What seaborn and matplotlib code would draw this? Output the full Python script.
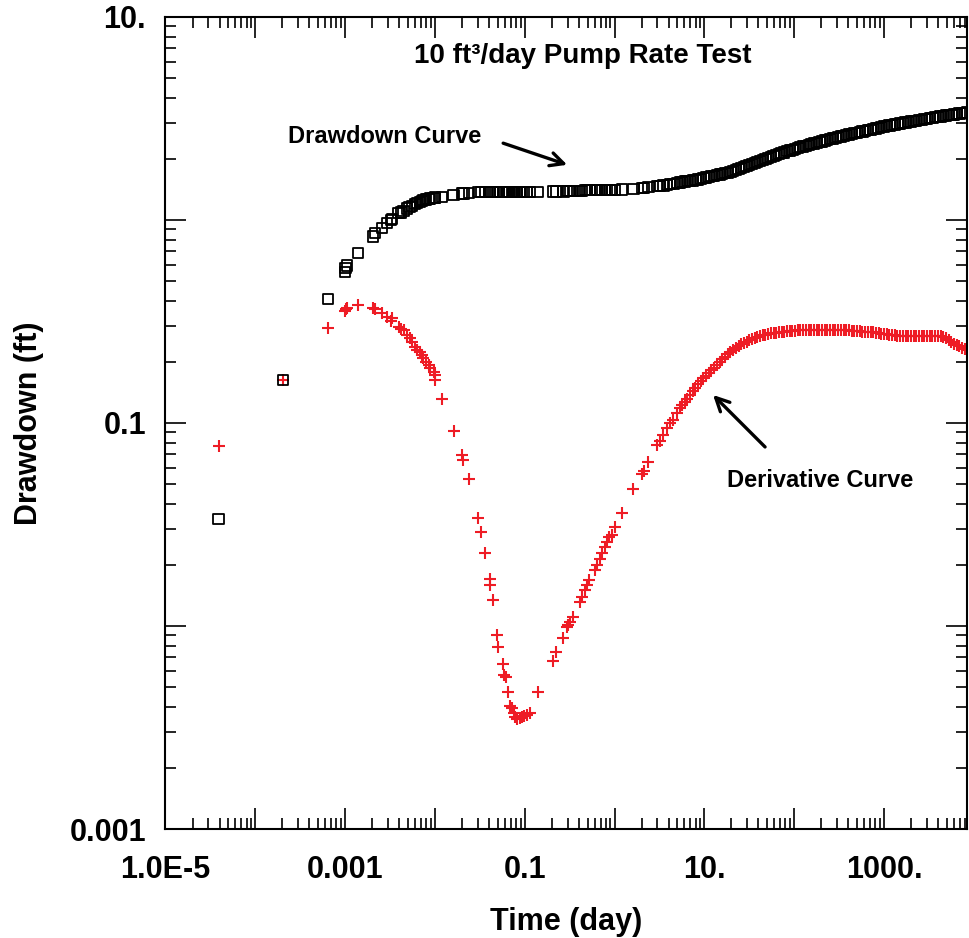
import numpy as np
import pandas as pd
import matplotlib
matplotlib.use("Agg")
import matplotlib.pyplot as plt
import seaborn as sns
from matplotlib.ticker import FixedLocator, FixedFormatter, LogLocator, NullFormatter

# ---------------- data ----------------
time_day = [
    3.9e-5, 2.04e-4, 6.4e-4, 1.0e-3, 1.01e-3, 1.04e-3, 1.40e-3, 2.04e-3, 2.17e-3, 2.57e-3,
    2.92e-3, 3.24e-3, 3.32e-3, 3.94e-3, 4.19e-3, 4.48e-3, 4.89e-3, 5.22e-3, 5.55e-3, 6.04e-3,
    6.31e-3, 6.87e-3, 7.18e-3, 7.46e-3, 8.0e-3, 8.49e-3, 8.87e-3, 9.66e-3, 9.9e-3, 1.0e-2,
    0.0120, 0.0161, 0.0200, 0.0208, 0.0241, 0.0305, 0.0325, 0.0363, 0.0406, 0.0413,
    0.0442, 0.0490, 0.0510, 0.0571, 0.0590, 0.0622, 0.0643, 0.0678, 0.0719, 0.0750,
    0.0783, 0.0818, 0.0875, 0.0929, 0.0986, 0.106, 0.115, 0.139, 0.206, 0.224,
    0.270, 0.294, 0.307, 0.321, 0.344, 0.414, 0.433, 0.471, 0.492, 0.526,
    0.608, 0.635, 0.692, 0.723, 0.785, 0.820, 0.877, 0.933, 1.02, 1.21,
    1.62, 2.01, 2.13, 2.38, 3.00, 3.21, 3.50, 3.82, 4.15, 4.53,
    5.01, 5.37,
    5.62, 6.03, 6.46, 6.92, 7.41, 7.94, 8.51, 9.12, 9.77,
    10.5, 11.2, 12.0, 12.9, 13.8, 14.8, 15.8, 17.0, 18.2, 19.5, 20.9, 22.4, 24.0, 25.7, 27.5,
    29.5, 31.6, 33.9, 36.3, 38.9, 41.7, 44.7, 47.9, 51.3, 55.0, 58.9, 63.1, 67.6, 72.4, 77.6,
    83.2, 89.1, 95.5,
    102, 110, 117, 126, 135, 145, 155, 166, 178, 191, 204, 219, 234, 251, 269, 288, 309,
    331, 355, 380, 407, 437, 468, 501, 537, 575, 617, 661, 708, 759, 813, 871, 933,
    1000, 1072, 1148, 1230, 1318, 1413, 1514, 1622, 1738, 1862, 1995, 2138, 2291, 2455,
    2630, 2818, 3020, 3236, 3467, 3715, 3981, 4266, 4571, 4898, 5248, 5623, 6026, 6457,
    6918, 7413, 7943, 8511,
]

drawdown_ft = [
    0.0336, 0.163, 0.409, 0.556, 0.578, 0.596, 0.685, 0.828, 0.866, 0.912,
    0.966, 1.00, 1.01, 1.08, 1.09, 1.11, 1.14, 1.155, 1.17, 1.20,
    1.21, 1.23, 1.24, 1.25, 1.26, 1.27, 1.275, 1.28, 1.285, 1.29,
    1.30, 1.33, 1.35, 1.35, 1.36, 1.37, 1.37, 1.37, 1.37, 1.37,
    1.37, 1.37, 1.37, 1.37, 1.37, 1.37, 1.37, 1.37, 1.37, 1.37,
    1.37, 1.37, 1.37, 1.37, 1.37, 1.37, 1.37, 1.37, 1.38, 1.38,
    1.38, 1.385, 1.39, 1.39, 1.39, 1.39, 1.39, 1.40, 1.40, 1.40,
    1.40, 1.40, 1.40, 1.40, 1.41, 1.41, 1.41, 1.41, 1.41, 1.415,
    1.42, 1.44, 1.44, 1.45, 1.47, 1.47, 1.48, 1.49, 1.50, 1.51,
    1.52, 1.53,
    1.538, 1.545, 1.552, 1.560, 1.567, 1.574, 1.585, 1.596, 1.607,
    1.618, 1.629, 1.641, 1.652, 1.663, 1.675, 1.687, 1.698, 1.710, 1.722, 1.738, 1.758,
    1.778, 1.799, 1.820, 1.841, 1.862, 1.884, 1.905, 1.928, 1.950, 1.972, 1.995, 2.018,
    2.042, 2.065, 2.089, 2.109, 2.133, 2.153, 2.178, 2.198, 2.218,
    2.239, 2.259, 2.280, 2.301, 2.323, 2.339, 2.360, 2.382, 2.399, 2.421, 2.438, 2.460,
    2.477, 2.500, 2.518, 2.541, 2.559, 2.576, 2.600, 2.618, 2.636, 2.655, 2.673, 2.692,
    2.710, 2.729, 2.748, 2.767, 2.786, 2.805, 2.825, 2.844, 2.864,
    2.884, 2.897, 2.917, 2.931, 2.951, 2.965, 2.985, 2.999, 3.020, 3.034, 3.055, 3.069,
    3.083, 3.105, 3.119, 3.141, 3.155, 3.170, 3.192, 3.206, 3.221, 3.236, 3.251, 3.266,
    3.281, 3.296, 3.311, 3.327, 3.342, 3.357, 3.373, 3.388,
]

derivative_ft = [
    0.0771, 0.163, 0.295, 0.357, 0.363, 0.367, 0.381, 0.367, 0.363, 0.347,
    0.334, 0.319, 0.328, 0.298, 0.292, 0.287, 0.271, 0.261, 0.251, 0.238,
    0.229, 0.224, 0.216, 0.208, 0.200, 0.193, 0.186, 0.179, 0.172, 0.163,
    0.132, 0.0914, 0.0695, 0.0658, 0.0528, 0.0340, 0.0292, 0.0230, 0.0171, 0.0159,
    0.0135, 0.00904, 0.00791, 0.00650, 0.00574, 0.00558, 0.00471, 0.00404, 0.00393, 0.00372,
    0.00357, 0.00347, 0.00351, 0.00355, 0.00361, 0.00365, 0.00374, 0.00471, 0.00675, 0.00746,
    0.00869, 0.00993, 0.0101, 0.0105, 0.0111, 0.0132, 0.0139, 0.0150, 0.0159, 0.0169,
    0.0189, 0.0200, 0.0215, 0.0228, 0.0246, 0.0260, 0.0275, 0.0281, 0.0308, 0.0361,
    0.0471, 0.0558, 0.0581, 0.0644, 0.0780, 0.0818, 0.0873, 0.0942, 0.0998, 0.104,
    0.112, 0.118,
    0.1225, 0.1271, 0.1318, 0.1371, 0.1439, 0.1493, 0.1549, 0.1611, 0.1660,
    0.1710, 0.1766, 0.1820, 0.1875, 0.1936, 0.1995, 0.2056, 0.2123, 0.2183, 0.2249, 0.2296,
    0.2344, 0.2393, 0.2438, 0.2472, 0.2512, 0.2553, 0.2582, 0.2618, 0.2649, 0.2679, 0.2704,
    0.2723, 0.2748, 0.2767, 0.2773, 0.2786, 0.2793, 0.2799, 0.2812, 0.2825, 0.2838, 0.2844,
    0.2851, 0.2864, 0.2871, 0.2871, 0.2871, 0.2871, 0.2871, 0.2871, 0.2871, 0.2871, 0.2871,
    0.2871, 0.2871, 0.2871, 0.2871, 0.2871, 0.2871, 0.2871, 0.2871, 0.2871, 0.2864, 0.2851,
    0.2844, 0.2831, 0.2825, 0.2818, 0.2812, 0.2805, 0.2799, 0.2793, 0.2786, 0.2773, 0.2754,
    0.2742, 0.2729, 0.2710, 0.2704, 0.2698, 0.2692, 0.2685, 0.2685, 0.2685, 0.2685, 0.2685,
    0.2685, 0.2685, 0.2685, 0.2685, 0.2685, 0.2685, 0.2685, 0.2685, 0.2685, 0.2685, 0.2673,
    0.2661, 0.2618, 0.2559, 0.2495, 0.2455, 0.2415, 0.2382, 0.2350, 0.2323, 0.2301,
]

x_tick_values = [1e-5, 1e-3, 1e-1, 1e1, 1e3]
x_tick_labels = ["1.0E-5", "0.001", "0.1", "10.", "1000."]
y_tick_values = [1e-3, 1e-1, 1e1]
y_tick_labels = ["0.001", "0.1", "10."]

title_text = "10 ft\u00b3/day Pump Rate Test"
x_label = "Time (day)"
y_label = "Drawdown (ft)"

# ---------------- style ----------------
sns.set_theme(style="ticks", rc={
    "axes.edgecolor": "black", "xtick.color": "black", "ytick.color": "black",
    "text.color": "black", "axes.labelcolor": "black", "axes.linewidth": 1.5,
})
plt.rcParams["font.family"] = ["Liberation Sans", "DejaVu Sans"]
plt.rcParams["font.weight"] = "bold"

fig = plt.figure(figsize=(9.7, 9.38), dpi=100)
ax = fig.add_axes([0.1706, 0.1162, 0.8263, 0.8657])

n = min(len(time_day), len(drawdown_ft), len(derivative_ft))
df = pd.DataFrame({"time": time_day[:n], "drawdown": drawdown_ft[:n],
                   "derivative": derivative_ft[:n]})

sns.scatterplot(data=df, x="time", y="drawdown", marker="s", s=7.4 ** 2,
                facecolor="none", edgecolor="black", linewidth=1.3, ax=ax, zorder=3)
sns.scatterplot(data=df, x="time", y="derivative", marker="+", s=9.0 ** 2,
                color="#EE1C25", linewidth=1.5, ax=ax, zorder=2)

ax.set_xscale("log")
ax.set_yscale("log")
ax.set_xlim(1e-5, 10 ** 3.924)
ax.set_ylim(1e-3, 10)

# major ticks at every decade, labels at every other decade
x_major = [10.0 ** k for k in range(-5, 4)]
y_major = [10.0 ** k for k in range(-3, 2)]
x_lab = {round(np.log10(v)): l for v, l in zip(x_tick_values, x_tick_labels)}
y_lab = {round(np.log10(v)): l for v, l in zip(y_tick_values, y_tick_labels)}
ax.xaxis.set_major_locator(FixedLocator(x_major))
ax.xaxis.set_major_formatter(FixedFormatter([x_lab.get(round(np.log10(v)), "") for v in x_major]))
ax.yaxis.set_major_locator(FixedLocator(y_major))
ax.yaxis.set_major_formatter(FixedFormatter([y_lab.get(round(np.log10(v)), "") for v in y_major]))
for axis in (ax.xaxis, ax.yaxis):
    axis.set_minor_locator(LogLocator(base=10, subs=np.arange(2, 10), numticks=40))
    axis.set_minor_formatter(NullFormatter())

ax.tick_params(which="both", direction="in", top=True, right=True, width=1.2)
ax.tick_params(which="major", length=15, labelsize=22)
ax.tick_params(which="minor", length=8)
ax.tick_params(axis="x", which="major", pad=18.5)
ax.tick_params(axis="y", which="major", pad=14)
for lbl in ax.get_xticklabels() + ax.get_yticklabels():
    lbl.set_fontweight("bold")

ax.set_xlabel(x_label, fontsize=22, fontweight="bold", labelpad=16)
ax.set_ylabel(y_label, fontsize=22, fontweight="bold", labelpad=18)

ax.text(0.5205, 0.943, title_text, transform=ax.transAxes, ha="center",
        va="baseline", fontsize=20, fontweight="bold")

ax.text(2.33e-4, 2.39, "Drawdown Curve", ha="left", va="baseline",
        fontsize=17, fontweight="bold")
ax.annotate("", xy=(0.297, 1.87), xytext=(0.0575, 2.39),
            arrowprops=dict(arrowstyle="->", lw=2.4, color="black",
                            mutation_scale=24, shrinkA=0, shrinkB=0))

ax.text(17.9, 0.0484, "Derivative Curve", ha="left", va="baseline",
        fontsize=17, fontweight="bold")
ax.annotate("", xy=(12.5, 0.1374), xytext=(47.4, 0.0762),
            arrowprops=dict(arrowstyle="->", lw=2.4, color="black",
                            mutation_scale=24, shrinkA=0, shrinkB=0))

ax.grid(False)
fig.savefig("out.png", dpi=100)
